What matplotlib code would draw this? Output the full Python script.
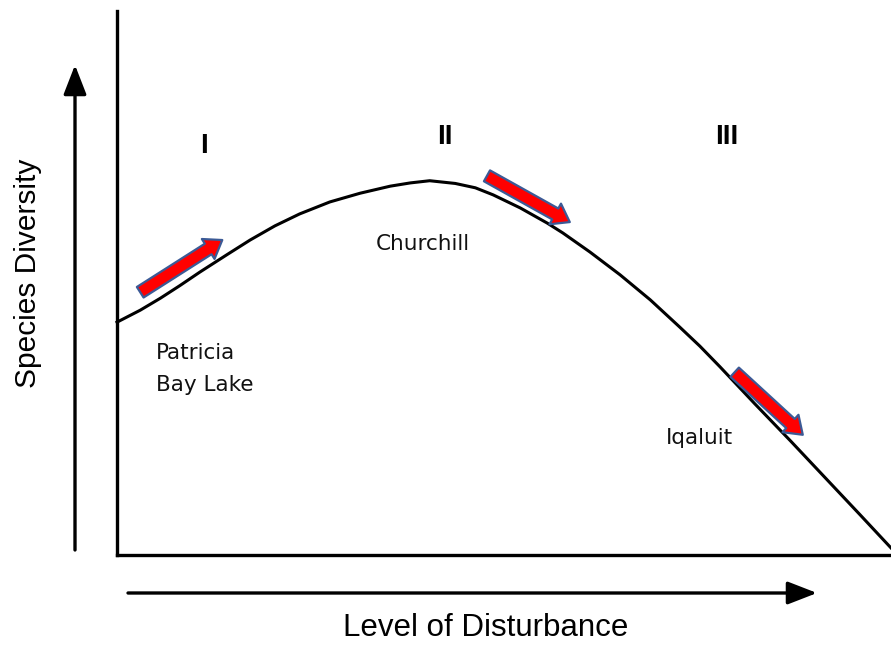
import matplotlib
matplotlib.use("Agg")
import matplotlib.pyplot as plt

# curve (disturbance 0-10, diversity 0-10)
disturbance = [0.0, 0.30, 0.56, 0.81, 1.07, 1.42, 1.72, 2.04, 2.36, 2.75, 3.14,
               3.53, 3.79, 4.04, 4.37, 4.63, 4.86, 5.21, 5.56, 5.76, 6.11, 6.50,
               6.89, 7.27, 7.53, 7.79, 8.24, 8.70, 9.15, 9.60, 10.0]
diversity = [4.28, 4.50, 4.72, 4.95, 5.20, 5.52, 5.79, 6.05, 6.27, 6.49, 6.65,
             6.78, 6.84, 6.88, 6.83, 6.75, 6.62, 6.38, 6.10, 5.92, 5.57, 5.15,
             4.69, 4.19, 3.84, 3.46, 2.78, 2.10, 1.42, 0.74, 0.13]

# trend arrows (tail -> head)
trend_arrows = [((0.30, 4.83), (1.36, 5.79)),
                ((4.78, 6.97), (5.85, 6.12)),
                ((7.98, 3.36), (8.86, 2.21))]

zone_labels = ["I", "II", "III"]
zone_x = [1.12, 4.24, 7.88]
zone_y = [7.52, 7.68, 7.68]

site_names = ["Patricia\nBay Lake", "Churchill", "Iqaluit"]
site_x = [0.5, 3.95, 7.52]
site_y = [3.42, 5.72, 2.15]
site_ha = ["left", "center", "center"]

W, H = 891, 645
fig = plt.figure(figsize=(W / 100, H / 100), dpi=100)
ax = fig.add_axes([117 / W, (H - 555) / H, (W - 117) / W, (555 - 11) / H])
ax.set_xlim(0, 10)
ax.set_ylim(0, 10)
ax.set_xticks([])
ax.set_yticks([])
for side in ["top", "right"]:
    ax.spines[side].set_visible(False)
for side in ["left", "bottom"]:
    ax.spines[side].set_linewidth(2.4)

ax.plot(disturbance, diversity, color="black", lw=2.2, clip_on=False,
        solid_joinstyle="round")

for tail, head in trend_arrows:
    ax.annotate("", xy=head, xytext=tail,
                arrowprops=dict(arrowstyle="simple,head_length=12,head_width=17,tail_width=9",
                                mutation_scale=1, fc="#ff0000", ec="#3b5a96",
                                lw=1.6, shrinkA=0, shrinkB=0))

for lab, x, y in zip(zone_labels, zone_x, zone_y):
    ax.text(x, y, lab, ha="center", va="center", fontsize=20, fontweight="bold",
            family="Liberation Sans")

for name, x, y, ha in zip(site_names, site_x, site_y, site_ha):
    ax.text(x, y, name, ha=ha, va="center", fontsize=15.5, family="DejaVu Sans",
            linespacing=1.75, color="#111111")

# outer axis arrows in figure pixels
ax.annotate("", xy=(75, H - 65), xytext=(75, H - 550), xycoords="figure pixels",
            arrowprops=dict(arrowstyle="-|>,head_length=0.9,head_width=0.35",
                            mutation_scale=20, color="black", lw=2.4,
                            shrinkA=0, shrinkB=0))
ax.annotate("", xy=(817, H - 593), xytext=(128, H - 593), xycoords="figure pixels",
            arrowprops=dict(arrowstyle="-|>,head_length=0.9,head_width=0.35",
                            mutation_scale=20, color="black", lw=2.4,
                            shrinkA=0, shrinkB=0))

fig.text(486 / W, 1 - 628 / H, "Level of Disturbance", ha="center", va="center",
         fontsize=22.5, family="Liberation Sans")
fig.text(28 / W, 1 - 273 / H, "Species Diversity", ha="center", va="center",
         rotation=90, fontsize=21.5, family="Liberation Sans")

fig.savefig("out.png", dpi=100)
